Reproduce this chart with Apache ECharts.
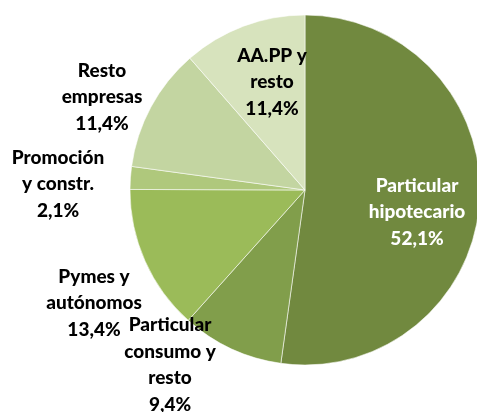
<!DOCTYPE html>
<html>
<head>
<meta charset="utf-8">
<script src="https://cdn.jsdelivr.net/npm/echarts@6/dist/echarts.min.js"></script>
<style>
  html, body { margin: 0; padding: 0; background: #fff; }
  #pie { width: 477px; height: 412px; }
</style>
</head>
<body>
<div id="pie"></div>
<script>
// Cartera de crédito por segmento (%)
var categories = ['Particular\nhipotecario', 'Particular\nconsumo y\nresto', 'Pymes y\nautónomos',
                  'Promoción\ny constr.', 'Resto\nempresas', 'AA.PP y\nresto'];
var values = [52.1, 9.4, 13.4, 2.1, 11.4, 11.4];

var colors = ['#71893f', '#819e4b', '#9bbb59', '#afc87c', '#c3d5a1', '#d7e3bd'];
var labelColors = ['#ffffff', '#000000', '#000000', '#000000', '#000000', '#000000'];
// centro de cada etiqueta
var labelPos = [[417, 212], [170, 365], [94, 303], [58, 184], [102, 97], [272, 82]];

var pieData = [];
for (var i = 0; i < values.length; i++) {
    pieData.push({
        name: categories[i],
        value: values[i],
        itemStyle: {color: colors[i]},
        label: {color: labelColors[i]}
    });
}

var pie = echarts.init(document.getElementById('pie'));
pie.setOption({
    animation: false,
    series: [
        {
            type: 'pie',
            center: [305, 190],
            radius: 175,
            startAngle: 90,
            clockwise: true,
            data: pieData,
            itemStyle: {
                borderColor: 'rgba(255,255,255,0.7)',
                borderWidth: 0.8
            },
            label: {
                show: true,
                position: 'inside',
                fontFamily: 'Lato',
                fontWeight: 900,
                fontSize: 19,
                lineHeight: 26.5,
                align: 'center',
                formatter: function (p) {
                    return p.name + '\n' + p.value.toFixed(1).replace('.', ',') + '%';
                }
            },
            labelLine: {show: false},
            labelLayout: function (p) {
                var pos = labelPos[p.dataIndex];
                return {x: pos[0], y: pos[1], align: 'center', verticalAlign: 'middle'};
            },
            emphasis: {disabled: true}
        }
    ]
});
</script>
</body>
</html>
